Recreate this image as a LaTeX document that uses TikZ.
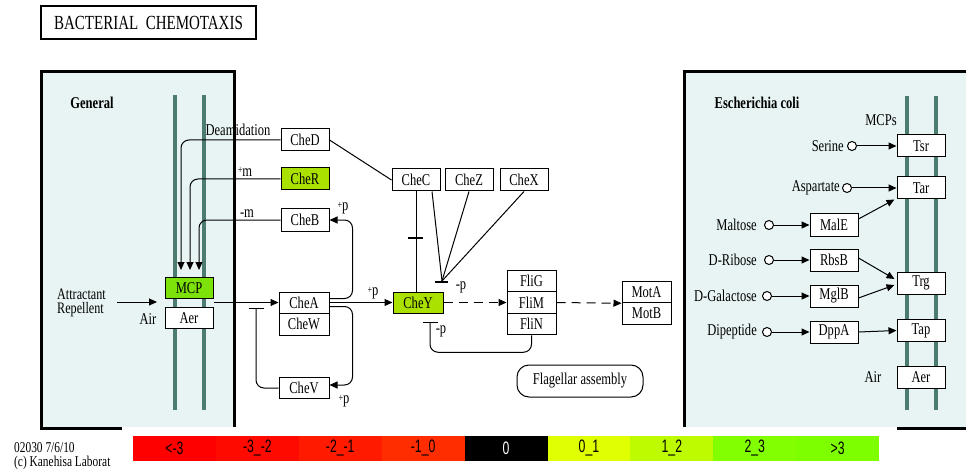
\documentclass[tikz,border=0pt]{standalone}
\usepackage{fontspec}
\setmainfont{Liberation Serif}[FakeStretch=0.76]
\newfontfamily\legfont{Liberation Sans}[FakeStretch=0.68]
\newfontfamily\titlefont{Liberation Serif}[FakeStretch=0.75]
\usetikzlibrary{arrows.meta}
\definecolor{panelbg}{RGB}{232,244,244}
\definecolor{memb}{RGB}{76,124,112}
\definecolor{yg}{RGB}{170,225,0}
\definecolor{mcpg}{RGB}{125,225,10}
\definecolor{lcA}{RGB}{255,0,0}
\definecolor{lcB}{RGB}{255,10,0}
\definecolor{lcC}{RGB}{255,26,0}
\definecolor{lcD}{RGB}{255,45,0}
\definecolor{lcE}{RGB}{0,0,0}
\definecolor{lcF}{RGB}{224,255,0}
\definecolor{lcG}{RGB}{190,250,0}
\definecolor{lcH}{RGB}{130,255,0}
\definecolor{lcI}{RGB}{125,255,0}
\newcommand\pls{\raisebox{2.5pt}{\fontsize{11}{11}\selectfont+}}
\begin{document}
\begin{tikzpicture}[x=1pt,y=-1pt,
  lbl/.style={font=\fontsize{16.5}{13}\selectfont, inner sep=0pt},
  gene/.style={draw, line width=1pt, fill=white, minimum width=48pt, minimum height=22pt, inner sep=0pt, font=\fontsize{16.5}{13}\selectfont},
  arr/.style={line width=1pt, -{Triangle[length=8pt,width=7pt]}},
  conn/.style={line width=1pt},
  inh/.style={line width=1pt, -{Bar[width=15pt,line width=1.3pt]}},
  dashpat/.style={dash pattern=on 9pt off 6pt},
  membr/.style={draw=memb, line width=4pt},
  panel/.style={draw=black, line width=3pt, fill=panelbg},
  cell/.style={minimum width=82.9pt, minimum height=25pt, inner sep=0pt, font=\legfont\fontsize{18}{18}\selectfont},
  sub/.style={circle, draw, line width=1pt, fill=white, minimum size=9pt, inner sep=0pt},
  foot/.style={font=\fontsize{15}{13}\selectfont, inner sep=0pt, text height=10pt, text depth=1pt},
  tight/.style={font=\fontsize{16}{13}\selectfont, inner sep=0pt, text height=10.5pt, text depth=0pt}
]
\useasboundingbox (0,0) rectangle (966,473);
\fill[white] (0,0) rectangle (966,473);

% title
\node[draw, line width=2pt, fill=white, minimum width=215pt, minimum height=33pt, inner sep=0pt,
  font=\titlefont\fontsize{20}{20}\selectfont] (title) at (148.5,22.5) {BACTERIAL\ \ CHEMOTAXIS};

% panels
\path[panel] (41.5,71.5) rectangle (234.5,428.5);
\path[panel] (684.5,71.5) rectangle (975,428.5);

% membranes
\draw[membr] (175,95) -- (175,410);
\draw[membr] (204,95) -- (204,410);
\draw[membr] (907,96) -- (907,410);
\draw[membr] (936,96) -- (936,410);

\node[lbl, font=\bfseries\fontsize{16.5}{13}\selectfont] (gen) at (92,103) {General};
\node[lbl, font=\bfseries\fontsize{16.5}{13}\selectfont] (eco) at (757,103) {Escherichia coli};

% ---------- left / middle nodes
\node[gene] (CheD) at (305,140) {CheD};
\node[gene, fill=yg] (CheR) at (305,179) {CheR};
\node[gene] (CheB) at (305,220) {CheB};
\node[gene, fill=mcpg, minimum height=21pt] (MCP) at (189,288) {MCP};
\node[gene, minimum height=21pt] (Aer) at (189,318) {Aer};
\node[gene, minimum width=50pt, minimum height=21pt] (CheA) at (304,302.5) {CheA};
\node[gene, minimum width=50pt, minimum height=22pt] (CheW) at (304,324) {CheW};
\node[gene, minimum width=50pt, minimum height=21pt] (CheV) at (304,388) {CheV};

\node[gene] (CheC) at (416,180) {CheC};
\node[gene] (CheZ) at (469,180) {CheZ};
\node[gene] (CheX) at (524,180) {CheX};
\node[gene, fill=yg, minimum width=50pt, minimum height=21pt] (CheY) at (418,302.5) {CheY};

\node[gene, minimum width=49pt, minimum height=21.5pt] (FliG) at (531.5,281) {FliG};
\node[gene, minimum width=49pt, minimum height=21.5pt] (FliM) at (531.5,302.5) {FliM};
\node[gene, minimum width=49pt, minimum height=21.5pt] (FliN) at (531.5,324) {FliN};
\node[gene, minimum width=49pt, minimum height=21.5pt] (MotA) at (646.5,292) {MotA};
\node[gene, minimum width=49pt, minimum height=21.5pt] (MotB) at (646.5,313.5) {MotB};

\node[gene, rounded corners=12pt, minimum width=126pt, minimum height=32pt] (flag) at (580,381) {Flagellar assembly};

% labels
\node[tight, anchor=base west] (attr) at (57,299) {Attractant};
\node[tight, anchor=base west] (repl) at (57,313) {Repellent};
\node[lbl] (airL) at (148,319) {Air};
\node[lbl] (deam) at (238,130) {Deamidation};
\node[lbl] (pm) at (245,172) {\pls m};
\node[lbl] (mm) at (247,214) {-m};
\node[lbl] (pB) at (343,208) {\pls p};
\node[lbl] (pV) at (344,401) {\pls p};
\node[lbl] (pY) at (373,293) {\pls p};
\node[lbl] (mpA) at (461,287) {-p};
\node[lbl] (mpB) at (441,331) {-p};

\coordinate (attrtip) at (157,302);
\coordinate (vbar) at (256,308);
\coordinate (ybar) at (430,322);
\coordinate (cz) at (442,281);

% connectors left
\draw[arr, rounded corners=8pt] (CheD.west) -| ([xshift=-8pt,yshift=7pt]MCP.north);
\draw[arr, rounded corners=8pt] (CheR.west) -| ([xshift=1pt,yshift=7pt]MCP.north);
\draw[arr, rounded corners=8pt] (CheB.west) -| ([xshift=10pt,yshift=7pt]MCP.north);
\draw[arr] ([xshift=11pt]attr.east |- attrtip) -- (attrtip);
\draw[arr] (MCP.south east |- CheA.west) -- (CheA.west);
\draw[inh, rounded corners=8pt] (CheV.west) -| (vbar);
\draw[arr, rounded corners=8pt] ([yshift=4pt]CheA.east) -- ++(23,0) |- (CheB.east);
\draw[arr, rounded corners=8pt] ([yshift=-4pt]CheA.east) -- ++(23,0) |- ([yshift=3pt]CheV.east);
\draw[arr] (CheA.east) -- (CheY.west);
\draw[conn] (CheD.east) -- (CheC.west);

% middle
\draw[conn] (CheC.south) -- coordinate[pos=0.465] (ctick) (CheC.south |- CheY.north);
\draw[line width=1.3pt] ([xshift=-8pt]ctick) -- ([xshift=7pt]ctick);
\draw[conn] ([xshift=16pt]CheC.south) -- (cz);
\draw[conn] (CheZ.south) -- (cz);
\draw[conn] (CheX.south) -- (cz);
\draw[line width=1.3pt] ([xshift=-7pt,yshift=-1pt]cz) -- ([xshift=6pt,yshift=-1pt]cz);
\draw[arr, dashpat] (CheY.east) -- (FliM.west);
\draw[arr, dashpat] (FliM.east) -- (MotA.south west);
\draw[inh, rounded corners=8pt] (FliN.south) -- ++(0,17) -| (ybar);

% ---------- right panel
\node[lbl] (mcps) at (881,120) {MCPs};
\node[gene] (Tsr) at (921,146) {Tsr};
\node[gene] (Tar) at (921,188) {Tar};
\node[gene] (Trg) at (921,283) {Trg};
\node[gene] (Tap) at (921,330.5) {Tap};
\node[gene] (AerR) at (921,377) {Aer};
\node[lbl] (airR) at (873,377) {Air};

\node[gene] (MalE) at (834,225) {MalE};
\node[gene] (RbsB) at (834,260) {RbsB};
\node[gene] (MglB) at (834,296) {MglB};
\node[gene] (DppA) at (834,332) {DppA};

\node[sub] (cSer) at (852,146) {};
\node[sub] (cAsp) at (847,188) {};
\node[sub] (cMal) at (769,225) {};
\node[sub] (cRib) at (769,260) {};
\node[sub] (cGal) at (767,296) {};
\node[sub] (cDip) at (767,332) {};

\node[lbl, anchor=east] (tSer) at ([xshift=-3pt]cSer.west) {Serine};
\node[lbl, anchor=east] (tAsp) at ([xshift=-2pt]cAsp.west) {Aspartate};
\node[lbl, anchor=east] (tMal) at ([xshift=-7pt]cMal.west) {Maltose};
\node[lbl, anchor=east] (tRib) at ([xshift=-7pt]cRib.west) {D-Ribose};
\node[lbl, anchor=east] (tGal) at ([xshift=-5pt]cGal.west) {D-Galactose};
\node[lbl, anchor=east] (tDip) at ([xshift=-5pt]cDip.west) {Dipeptide};

\draw[arr] (cSer.east) -- (Tsr.west);
\draw[arr] (cAsp.east) -- (Tar.west);
\draw[arr] (cMal.east) -- (MalE.west);
\draw[arr] (cRib.east) -- (RbsB.west);
\draw[arr] (cGal.east) -- (MglB.west);
\draw[arr] (cDip.east) -- (DppA.west);
\draw[arr] ([yshift=6pt]MalE.east) -- ([xshift=-2pt]Tar.south west);
\draw[arr] ([yshift=2pt]RbsB.east) -- ([shift={(-2pt,4pt)}]Trg.west);
\draw[arr] ([yshift=-2pt]MglB.east) -- ([shift={(-2pt,-2pt)}]Trg.west);
\draw[arr] (DppA.east) -- (Tap.west);

% ---------- footer and legend
\node[foot, anchor=base west] (ver) at (14,452.5) {02030 7/6/10};
\node[foot, anchor=base west] (copy) at (14,466.5) {(c) Kanehisa Laborat};
\fill[white] (122,427) rectangle (897,476);

\node[cell, fill=lcA] (l1) at (174.45,448.5) {<-3};
\node[cell, fill=lcB] (l2) at (257.35,448.5) {-3\_-2};
\node[cell, fill=lcC] (l3) at (340.25,448.5) {-2\_-1};
\node[cell, fill=lcD] (l4) at (423.15,448.5) {-1\_0};
\node[cell, fill=lcE, text=white] (l5) at (506.05,448.5) {0};
\node[cell, fill=lcF] (l6) at (588.95,448.5) {0\_1};
\node[cell, fill=lcG] (l7) at (671.85,448.5) {1\_2};
\node[cell, fill=lcH] (l8) at (754.75,448.5) {2\_3};
\node[cell, fill=lcI] (l9) at (837.65,448.5) {>3};
\end{tikzpicture}
\end{document}
